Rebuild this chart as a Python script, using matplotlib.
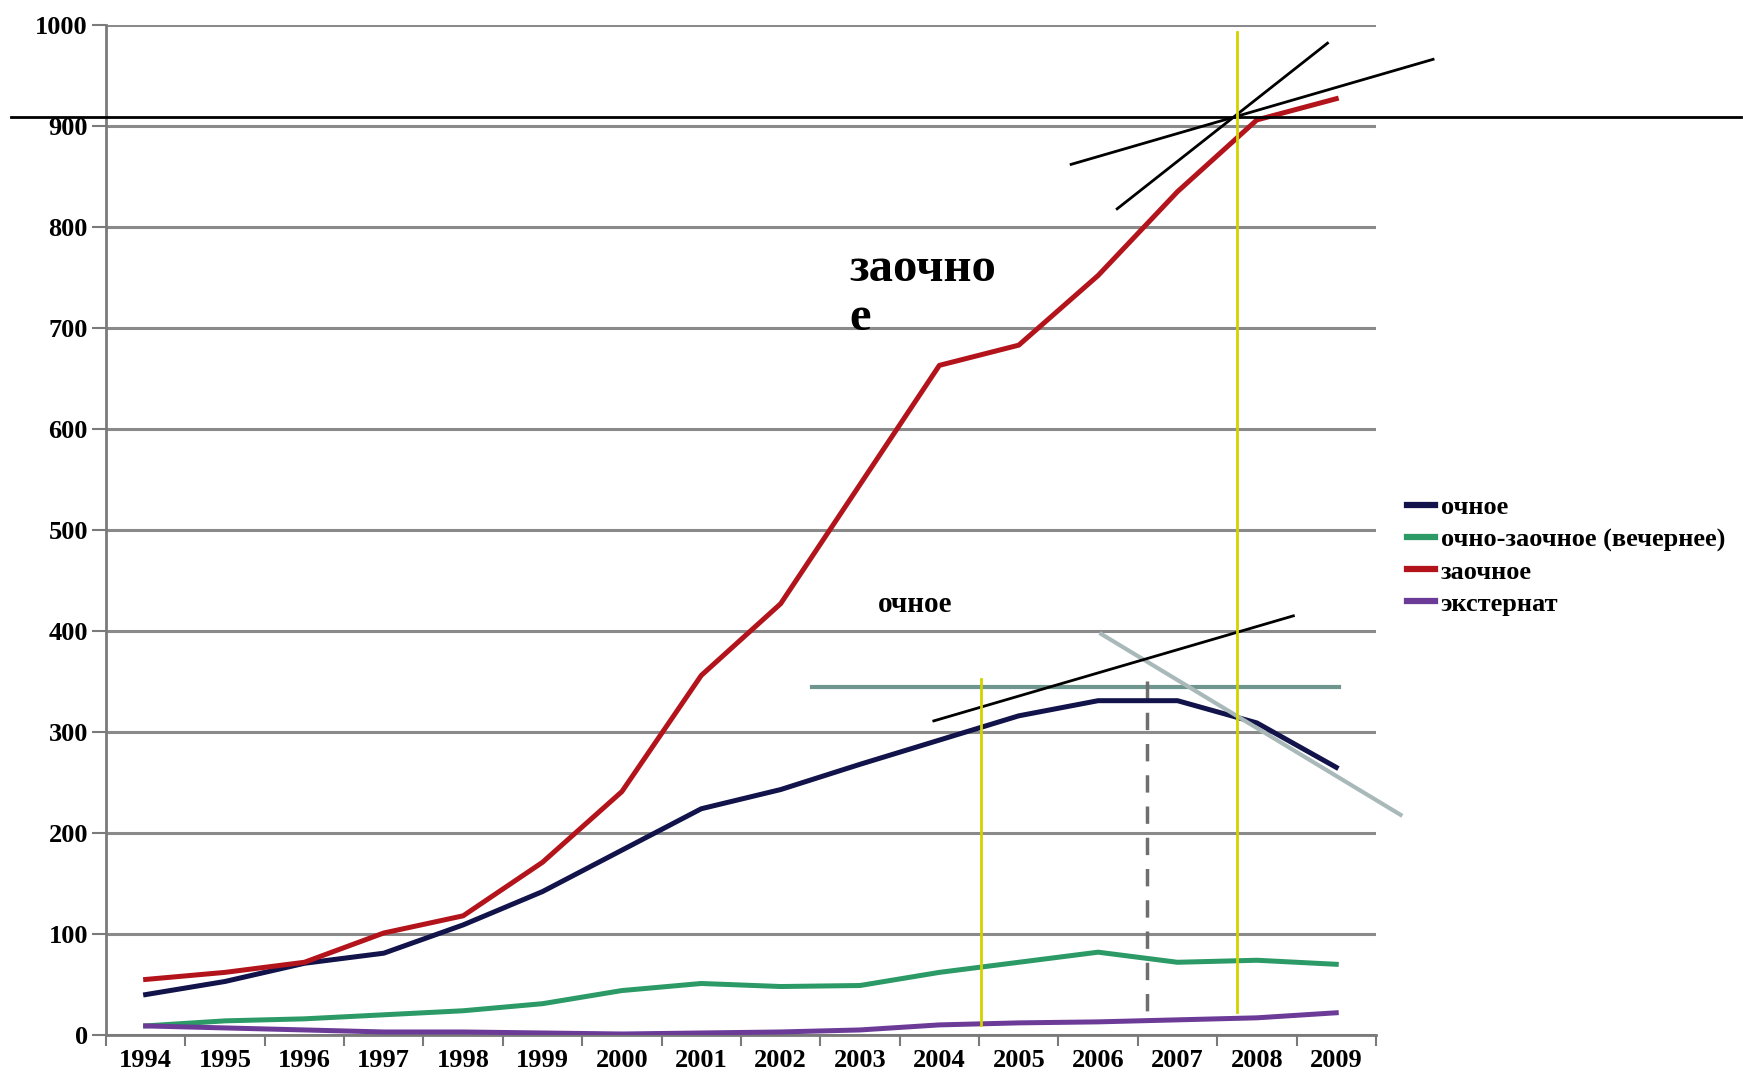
import matplotlib
matplotlib.use("Agg")
import matplotlib.pyplot as plt
import numpy as np

plt.rcParams["font.family"] = ["Liberation Serif", "DejaVu Serif"]
plt.rcParams["font.weight"] = "bold"

years = [1994, 1995, 1996, 1997, 1998, 1999, 2000, 2001,
         2002, 2003, 2004, 2005, 2006, 2007, 2008, 2009]

ochnoe         = [40, 53, 71, 81, 109, 142, 183, 224, 243, 268, 292, 316, 331, 331, 309, 265]
ochno_zaochnoe = [9, 14, 16, 20, 24, 31, 44, 51, 48, 49, 62, 72, 82, 72, 74, 70]
zaochnoe       = [55, 62, 72, 101, 118, 171, 241, 356, 427, 545, 663, 683, 752, 835, 906, 927]
eksternat      = [9, 7, 5, 3, 3, 2, 1, 2, 3, 5, 10, 12, 13, 15, 17, 22]

series = [
    ("очное", ochnoe, "#11134a"),
    ("очно-заочное (вечернее)", ochno_zaochnoe, "#2b9a66"),
    ("заочное", zaochnoe, "#b3141c"),
    ("экстернат", eksternat, "#6c3b98"),
]

# hand-drawn overlay segments: (x0, y0, x1, y1) in category-index / value units
black_segs  = [(-1.70, 909, 20.1, 909),
               (11.66, 862, 16.22, 966),
               (12.24, 818, 14.89, 982),
               (9.93, 311, 14.46, 415)]
gray_seg    = (12.04, 397, 15.81, 218)
teal_seg    = (8.39, 345, 15.04, 345)
dashed_seg  = (12.61, 350, 12.61, 18)
yellow_segs = [(10.52, 352, 10.52, 10),
               (13.75, 993, 13.75, 23)]

fig = plt.figure(figsize=(17.43, 10.77), dpi=100)
ax = fig.add_axes([0.0608, 0.0390, 0.7286, 0.9378])

x = np.arange(len(years))
for name, vals, col in series:
    ax.plot(x, vals, color=col, lw=3.6, label=name, solid_joinstyle="round", zorder=3)

ax.set_xlim(-0.5, len(years) - 0.5)
ax.set_ylim(0, 1000)

# gridlines
ax.set_yticks(np.arange(0, 1001, 100))
ax.yaxis.grid(True, color="#8a8a8a", lw=2.2)
ax.set_axisbelow(True)

# x ticks at category boundaries, labels at centers
ax.set_xticks(np.arange(-0.5, len(years), 1.0))
ax.set_xticklabels([])
ax.set_xticks(x, minor=True)
ax.set_xticklabels([str(y) for y in years], minor=True)
ax.tick_params(axis="x", which="major", direction="out", length=8, width=1.5, color="#7a7a7a")
ax.tick_params(axis="x", which="minor", length=0, pad=10, labelsize=19)
ax.tick_params(axis="y", direction="out", length=10, width=1.5, color="#7a7a7a",
               labelsize=19, pad=3)

for s in ["top", "right"]:
    ax.spines[s].set_visible(False)
for s in ["left", "bottom"]:
    ax.spines[s].set_color("#7a7a7a")
    ax.spines[s].set_linewidth(2)

# overlays
ax.plot(teal_seg[::2], teal_seg[1::2], color="#6f968e", lw=3, zorder=2, clip_on=False)
ax.plot(dashed_seg[::2], dashed_seg[1::2], color="#6e6e6e", lw=2.5, ls=(0, (5, 4)),
        zorder=2, clip_on=False)
ax.plot(gray_seg[::2], gray_seg[1::2], color="#a9b9b9", lw=3, zorder=4, clip_on=False)
for seg in black_segs:
    ax.plot(seg[::2], seg[1::2], color="black", lw=2, zorder=5, clip_on=False)
for seg in yellow_segs:
    ax.plot(seg[::2], seg[1::2], color="#d2d200", lw=2, zorder=6, clip_on=False)

ax.text(8.86, 747, "заочно", fontsize=35, fontweight="bold", va="baseline", ha="left")
ax.text(8.86, 698, "е", fontsize=35, fontweight="bold", va="baseline", ha="left")
ax.text(9.23, 426, "очное", fontsize=21, fontweight="bold", va="center", ha="left")

fig.legend(loc="center left", bbox_to_anchor=(0.8072, 0.4840), frameon=False,
           fontsize=19, handlelength=1.06, handletextpad=0.22, labelspacing=0.32,
           borderpad=0, borderaxespad=0)
leg = fig.legends[0]
for h in leg.get_lines():
    h.set_linewidth(4.5)

fig.savefig("out.png", dpi=100)
